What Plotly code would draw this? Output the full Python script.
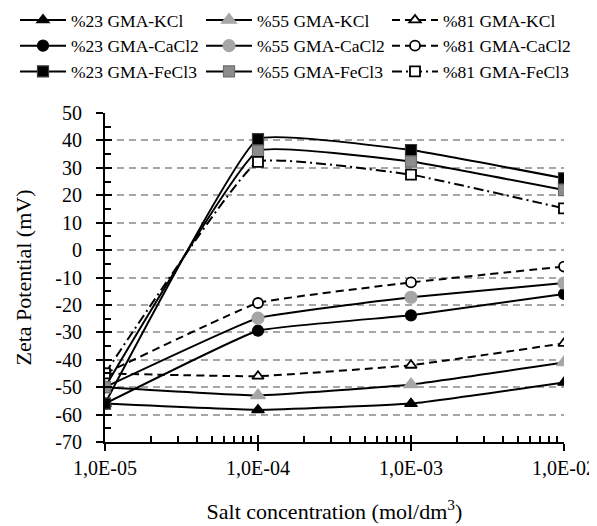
import plotly.graph_objects as go

conc = [1e-5, 1e-4, 1e-3, 1e-2]
tick_text = ["1,0E-05", "1,0E-04", "1,0E-03", "1,0E-02"]

kcl_23 = [-56, -58.3, -56.0, -48.3]
kcl_55 = [-50, -53.0, -49.0, -41.0]
kcl_81 = [-45, -46.0, -42.0, -34.0]
cacl2_23 = [-56, -29.4, -23.8, -16.0]
cacl2_55 = [-50, -24.8, -17.2, -12.0]
cacl2_81 = [-45, -19.3, -11.8, -6.0]
fecl3_23 = [-56, 40.5, 36.5, 26.2]
fecl3_55 = [-50, 36.2, 32.3, 21.9]
fecl3_81 = [-45, 32.2, 27.5, 15.2]

names = ["%23 GMA-KCl", "%55 GMA-KCl", "%81 GMA-KCl",
         "%23 GMA-CaCl2", "%55 GMA-CaCl2", "%81 GMA-CaCl2",
         "%23 GMA-FeCl3", "%55 GMA-FeCl3", "%81 GMA-FeCl3"]
series = [kcl_23, kcl_55, kcl_81, cacl2_23, cacl2_55, cacl2_81,
          fecl3_23, fecl3_55, fecl3_81]

symbols = ["triangle-up"] * 3 + ["circle"] * 3 + ["square"] * 3
fills = ["#000000", "#a6a6a6", "#ffffff"] * 2 + ["#000000", "#8c8c8c", "#ffffff"]
edges = ["#000000", "#a6a6a6", "#000000"] * 2 + ["#3a3a3a", "#6e6e6e", "#000000"]
dashes = ["solid", "solid", "8px,5px", "solid", "solid", "8px,5px", "solid", "solid", "10px,4px,2px,4px"]
sizes = [11, 13, 10, 11, 12, 10, 11, 11, 10]

fig = go.Figure()
for i, (nm, ys) in enumerate(zip(names, series)):
    fig.add_trace(go.Scatter(
        x=conc, y=ys, name=nm, mode="lines+markers",
        line=dict(color="black", width=2, dash=dashes[i], shape="spline", smoothing=0.3),
        marker=dict(symbol=symbols[i], size=sizes[i], color=fills[i],
                    line=dict(color=edges[i], width=1.8 if fills[i] == "#ffffff" else 1.2)),
    ))

# dummy trace for overlay axes (inside part of crossing ticks)
fig.add_trace(go.Scatter(x=[], y=[], xaxis="x2", yaxis="y2", showlegend=False, hoverinfo="skip"))

font_family = "Liberation Serif, Times New Roman, serif"
W, H = 597, 526
ML, MR, MT, MB = 97, 41, 105, 92
PW, PH = W - ML - MR, H - MT - MB

ytick_vals = list(range(-70, 51, 10))
ytick_text = [str(v) + "\u2002" for v in ytick_vals]

fig.update_layout(
    width=W, height=H,
    margin=dict(l=ML, r=MR, t=MT, b=MB, autoexpand=False),
    paper_bgcolor="white", plot_bgcolor="white",
    font=dict(family=font_family, color="black"),
    showlegend=True,
    legend=dict(orientation="h", xref="paper", yref="paper",
                x=(7 - ML) / PW, y=1 + (MT + 6) / PH, xanchor="left", yanchor="top",
                entrywidth=125, entrywidthmode="pixels",
                font=dict(size=17.5, family=font_family, color="black"), itemwidth=46,
                bgcolor="rgba(0,0,0,0)"),
    xaxis=dict(type="log", range=[-5, -2], tickmode="array",
               tickvals=conc, ticktext=tick_text,
               tickfont=dict(size=20), showgrid=False, zeroline=False,
               showline=True, linecolor="black", linewidth=2,
               ticks="outside", ticklen=7, tickwidth=2, tickcolor="black",
               minor=dict(tickmode="array",
                          tickvals=[m * 10 ** e for e in (-5, -4, -3) for m in range(2, 10)],
                          ticks="inside", ticklen=6, tickwidth=2, tickcolor="black", showgrid=False),
               title=dict(text="Salt concentration (mol/dm<sup>3</sup>)", font=dict(size=22), standoff=26)),
    yaxis=dict(range=[-70, 50], tickmode="array", tickvals=ytick_vals, ticktext=ytick_text,
               tickfont=dict(size=20),
               showgrid=True, gridcolor="#a6a6a6", gridwidth=1.5, griddash="7px,5px",
               zeroline=False, showline=True, linecolor="black", linewidth=2,
               ticks="outside", ticklen=7, tickwidth=2, tickcolor="black",
               minor=dict(tickmode="array", tickvals=list(range(-65, 50, 10)),
                          ticks="inside", ticklen=6, tickwidth=2, tickcolor="black", showgrid=False),
               title=dict(text="Zeta Potential (mV)", font=dict(size=22), standoff=18)),
    xaxis2=dict(type="log", range=[-5, -2], overlaying="x", anchor="y", side="bottom",
                tickmode="array", tickvals=conc, showticklabels=False, showgrid=False,
                zeroline=False, showline=False, ticks="inside", ticklen=7, tickwidth=2, tickcolor="black"),
    yaxis2=dict(range=[-70, 50], overlaying="y", anchor="x", side="left",
                tickmode="array", tickvals=ytick_vals,
                showticklabels=False, showgrid=False, zeroline=False, showline=False,
                ticks="inside", ticklen=7, tickwidth=2, tickcolor="black"),
)

fig.write_html("out.html")
